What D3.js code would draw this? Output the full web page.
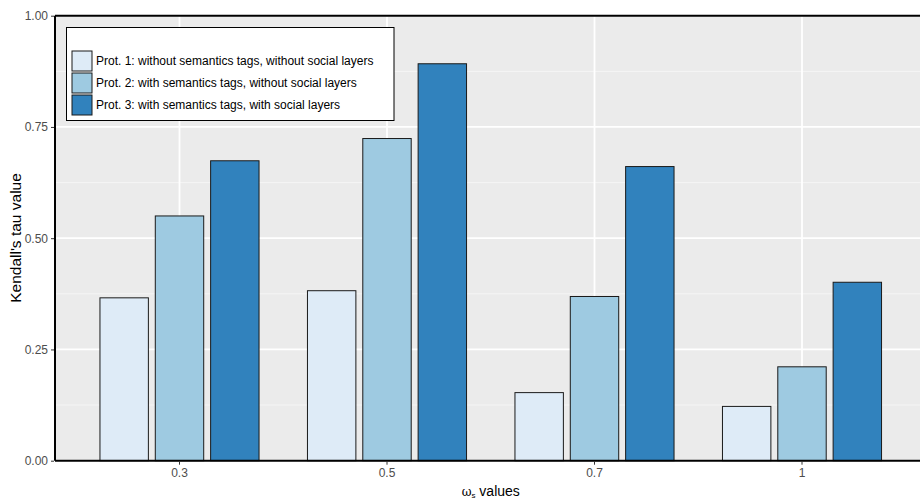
<!DOCTYPE html>
<html>
<head>
<meta charset="utf-8">
<script src="https://cdn.jsdelivr.net/npm/d3@7"></script>
<style>
  html, body { margin: 0; padding: 0; background: #fff; }
  svg { display: block; font-family: "Liberation Sans", Arial, sans-serif; }
</style>
</head>
<body>
<svg id="chart" width="920" height="499"></svg>
<script>
const categories = ["0.3", "0.5", "0.7", "1"];
const seriesNames = [
  "Prot. 1: without semantics tags, without social layers",
  "Prot. 2: with semantics tags, without social layers",
  "Prot. 3: with semantics tags, with social layers"
];
const prot1 = [0.366, 0.382, 0.153, 0.122];
const prot2 = [0.550, 0.724, 0.369, 0.211];
const prot3 = [0.674, 0.892, 0.661, 0.401];
const yTicks = [0, 0.25, 0.5, 0.75, 1];
const yMinor = [0.125, 0.375, 0.625, 0.875];
const colors = ["#DEEBF7", "#9ECAE1", "#3182BD"];

(function () {
const series = [prot1, prot2, prot3];
const svg = d3.select("#chart");
const pLeft = 55, pRight = 926.5, pTop = 15.7, pBottom = 460.7;

// discrete x with ggplot expansion of 0.6 per side
const x = d3.scaleLinear().domain([0.4, categories.length + 0.6]).range([pLeft, pRight]);
const y = d3.scaleLinear().domain([0, 1]).range([pBottom, pTop]);

const g = svg.append("g");
g.append("rect").attr("x", pLeft).attr("y", pTop).attr("width", pRight - pLeft).attr("height", pBottom - pTop).attr("fill", "#EBEBEB");

// minor grid
g.selectAll(".minor").data(yMinor).enter().append("line")
  .attr("x1", pLeft).attr("x2", pRight).attr("y1", d => y(d)).attr("y2", d => y(d))
  .attr("stroke", "#F5F5F5").attr("stroke-width", 1);
// major grid
g.selectAll(".major").data(yTicks).enter().append("line")
  .attr("x1", pLeft).attr("x2", pRight).attr("y1", d => y(d)).attr("y2", d => y(d))
  .attr("stroke", "#FFFFFF").attr("stroke-width", 1.8);
g.selectAll(".vmajor").data(categories).enter().append("line")
  .attr("x1", (d, i) => x(i + 1)).attr("x2", (d, i) => x(i + 1)).attr("y1", pTop).attr("y2", pBottom)
  .attr("stroke", "#FFFFFF").attr("stroke-width", 1.8);

// bars: width 0.7, dodge 0.8
const dodge = 0.8, bw = 0.7 / 3;
series.forEach((vals, s) => {
  g.selectAll(".bar" + s).data(vals).enter().append("rect")
    .attr("x", (d, i) => x(i + 1 - dodge / 2 + dodge / 6 + s * dodge / 3 - bw / 2))
    .attr("width", x(bw) - x(0))
    .attr("y", d => y(d))
    .attr("height", d => y(0) - y(d))
    .attr("fill", colors[s]).attr("stroke", "#1a1a1a").attr("stroke-width", 1);
});

// axes lines
g.append("line").attr("x1", pLeft).attr("x2", pLeft).attr("y1", pTop).attr("y2", pBottom).attr("stroke", "#000").attr("stroke-width", 2);
g.append("line").attr("x1", pLeft).attr("x2", pRight).attr("y1", pBottom).attr("y2", pBottom).attr("stroke", "#000").attr("stroke-width", 2);
g.append("line").attr("x1", pLeft).attr("x2", pRight).attr("y1", pTop).attr("y2", pTop).attr("stroke", "#000").attr("stroke-width", 2);

// y axis ticks
const yAxis = d3.axisLeft(y).tickValues(yTicks).tickFormat(d3.format(".2f")).tickSize(3).tickPadding(3);
const ya = svg.append("g").attr("transform", `translate(${pLeft - 1},0)`).call(yAxis);
ya.select(".domain").remove();
ya.selectAll("line").attr("stroke", "#333");
ya.selectAll("text").attr("fill", "#4D4D4D").style("font-size", "12px").style("font-family", "Liberation Sans, Arial, sans-serif");

// x axis ticks
const xb = d3.scaleBand().domain(categories).range([x(0.5), x(categories.length + 0.5)]);
const xAxis = d3.axisBottom(xb).tickSize(3).tickPadding(4);
const xa = svg.append("g").attr("transform", `translate(0,${pBottom + 1})`).call(xAxis);
xa.select(".domain").remove();
xa.selectAll("line").attr("stroke", "#333");
xa.selectAll("text").attr("fill", "#4D4D4D").style("font-size", "12px").style("font-family", "Liberation Sans, Arial, sans-serif");

// axis titles
svg.append("text").attr("transform", "translate(21,238) rotate(-90)")
  .attr("text-anchor", "middle").attr("font-size", 15.5).attr("fill", "#000")
  .text("Kendall's tau value");
const xt = svg.append("text").attr("x", (pLeft + pRight) / 2).attr("y", 496)
  .attr("text-anchor", "middle").attr("font-size", 14).attr("fill", "#000");
xt.append("tspan").attr("font-family", "DejaVu Serif, serif").attr("font-size", 12).text("ω");
xt.append("tspan").attr("font-size", 8).attr("dy", 2).text("s");
xt.append("tspan").attr("dy", -2).text(" values");

// legend
const lg = svg.append("g");
lg.append("rect").attr("x", 66.5).attr("y", 27.5).attr("width", 327.5).attr("height", 93)
  .attr("fill", "#fff").attr("stroke", "#000").attr("stroke-width", 1);
seriesNames.forEach((name, i) => {
  lg.append("rect").attr("x", 72).attr("y", 51 + i * 22).attr("width", 20).attr("height", 20)
    .attr("fill", colors[i]).attr("stroke", "#1a1a1a").attr("stroke-width", 1);
  lg.append("text").attr("x", 96).attr("y", 61 + i * 22).attr("dy", "0.35em")
    .attr("font-size", 12).attr("fill", "#000").text(name);
});
})();
</script>
</body>
</html>
